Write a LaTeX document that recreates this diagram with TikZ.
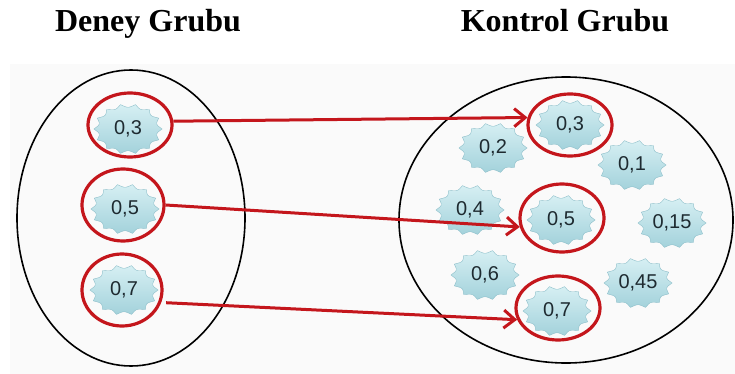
\documentclass[tikz,border=0pt]{standalone}
\usepackage{fontspec}
\setmainfont{Liberation Serif}
\newfontfamily\lblfont{Liberation Sans}
\usetikzlibrary{arrows.meta,shapes.geometric}
\definecolor{redline}{HTML}{C4161C}
\definecolor{blobtop}{HTML}{D6EFF3}
\definecolor{blobbot}{HTML}{A3D2DB}
\definecolor{blobedge}{HTML}{8DBFCA}
\definecolor{lbltext}{HTML}{1E2A30}
\tikzset{
  title/.style={font=\fontsize{32}{36}\selectfont\bfseries, anchor=base},
  group/.style={draw=black, line width=1.6pt},
  ring/.style={draw=redline, line width=3.2pt, ellipse, inner sep=0pt},
  link/.style={draw=redline, line width=3pt, -{Straight Barb[length=11pt,width=18pt,line width=3pt]}},
  lbl/.style={font=\lblfont\fontsize{20}{22}\selectfont, text=lbltext, inner sep=1pt},
}
\newcommand{\blob}[4]{%
  \shade[top color=blobtop, bottom color=blobbot, draw=blobedge, line width=0.4pt]
    plot[domain=0:360, samples=281, smooth] ({#2+34*(1-0.13*abs(sin(7*\x)))*cos(\x)},{#3+25*(1-0.13*abs(sin(7*\x)))*sin(\x)}) -- cycle;
  \node[lbl] (#1) at (#2,#3) {#4};
}
\begin{document}
\begin{tikzpicture}[x=1pt,y=-1pt]
\useasboundingbox (0,0) rectangle (735,374);
\fill[black!2] (10,64) rectangle (735,374);
\node[title] (tdeney) at (148,32) {Deney Grubu};
\node[title] (tkontrol) at (565,32) {Kontrol Grubu};
% groups
\draw[group] (131,218) ellipse [x radius=114, y radius=148];
\draw[group] (566,220) ellipse [x radius=167, y radius=143];
% left blobs
\blob{l3}{128}{129}{0,3}
\blob{l5}{125}{209}{0,5}
\blob{l7}{124}{290}{0,7}
% right blobs
\blob{r3}{570}{125}{0,3}
\blob{r2}{493}{148}{0,2}
\blob{r1}{632}{165}{0,1}
\blob{r4}{470}{210}{0,4}
\blob{r5}{561}{220}{0,5}
\blob{r15}{672}{223}{0,15}
\blob{r6}{485}{275}{0,6}
\blob{r45}{638}{283}{0,45}
\blob{r7}{557}{311}{0,7}
% rings
\node[ring, minimum width=84, minimum height=64] (cl3) at (130,125) {};
\node[ring, minimum width=82, minimum height=72] (cl5) at (123,205) {};
\node[ring, minimum width=80, minimum height=72] (cl7) at (122,290) {};
\node[ring, minimum width=84, minimum height=62] (cr3) at (570,125) {};
\node[ring, minimum width=84, minimum height=68] (cr5) at (562,218) {};
\node[ring, minimum width=84, minimum height=64] (cr7) at (558,308) {};
% links
\draw[link] (cl3.5) -- (cr3.170);
\draw[link] (cl5.east) -- (cr5.192);
\draw[link] ([xshift=5pt]cl7.-18) -- (cr7.196);
\end{tikzpicture}
\end{document}
